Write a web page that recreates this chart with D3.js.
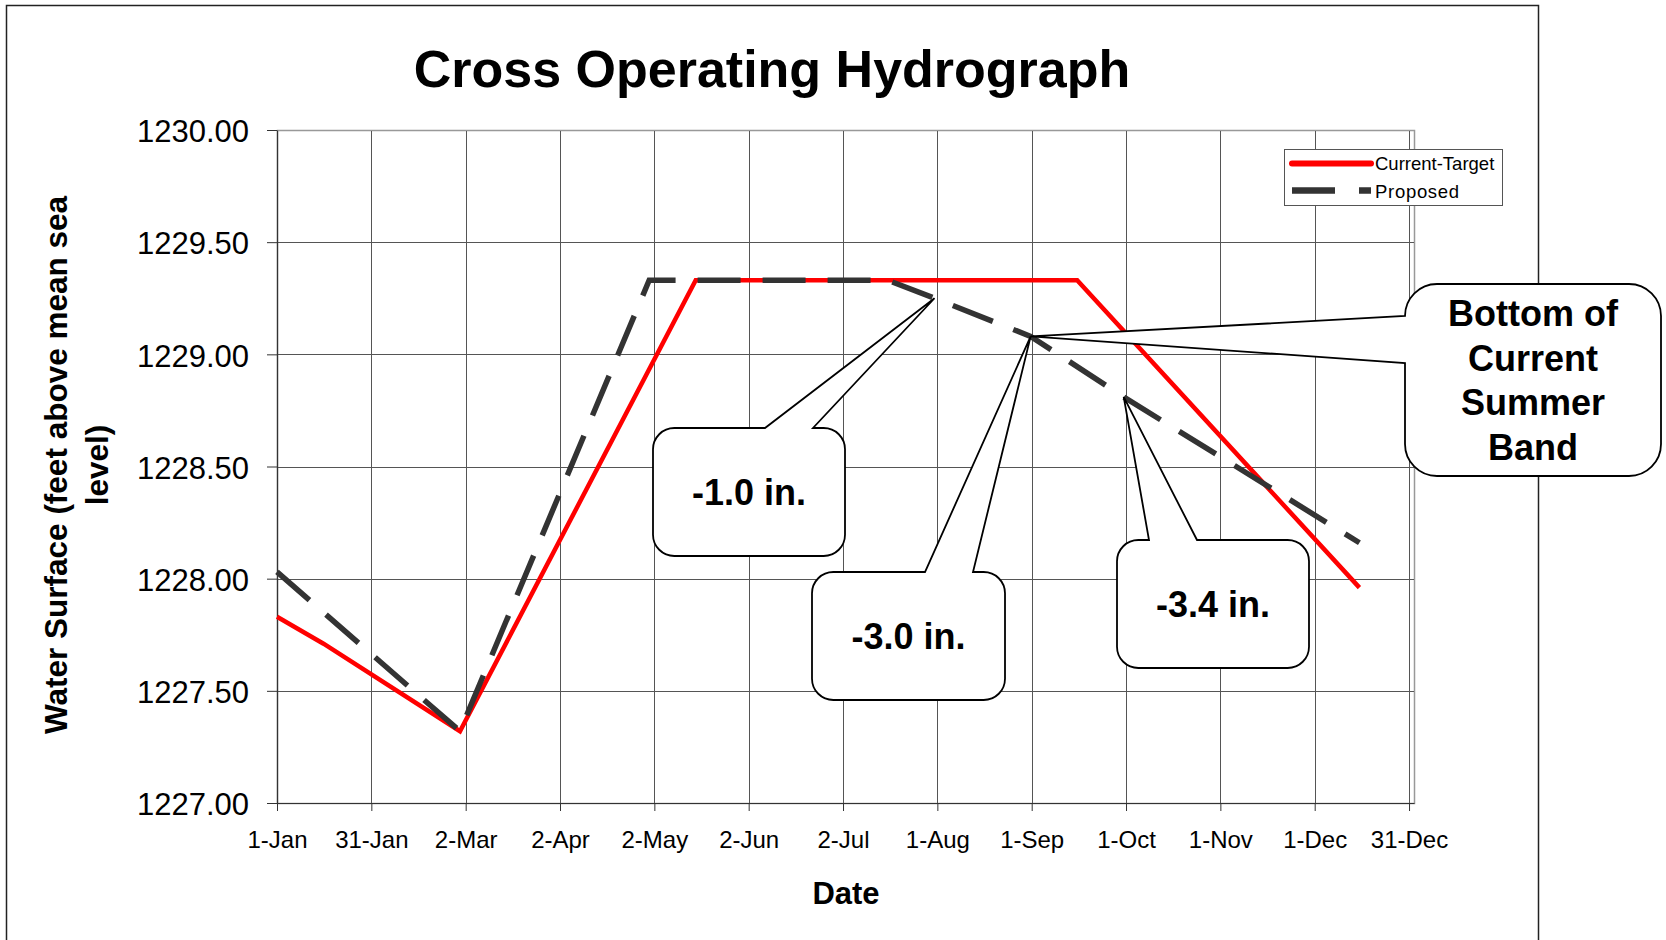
<!DOCTYPE html>
<html>
<head>
<meta charset="utf-8">
<script src="https://cdnjs.cloudflare.com/ajax/libs/d3/7.8.5/d3.min.js"></script>
<style>
 body { margin: 0; background: #fff; }
 text { font-family: "Liberation Sans", Arial, sans-serif; fill: #000; }
</style>
</head>
<body>
<div id="chart-area"></div>
<script>
// day of year (1-Jan = 0) and water surface elevation (ft)
var currentDays = [0, 15, 59, 135, 258, 349];
var currentLevels = [1227.83, 1227.71, 1227.32, 1229.33, 1229.33, 1227.96];
var proposedDays = [0, 59, 120, 197, 212, 243, 273, 349];
var proposedLevels = [1228.03, 1227.32, 1229.33, 1229.33, 1229.25, 1229.08, 1228.81, 1228.16];

var seriesNames = ["Current-Target", "Proposed"];
var xTickLabels = ["1-Jan", "31-Jan", "2-Mar", "2-Apr", "2-May", "2-Jun", "2-Jul",
  "1-Aug", "1-Sep", "1-Oct", "1-Nov", "1-Dec", "31-Dec"];
var yTicks = [1227, 1227.5, 1228, 1228.5, 1229, 1229.5, 1230];

// callout text and the Proposed point each one points at
var calloutTexts = [["-1.0 in."], ["-3.0 in."], ["-3.4 in."], ["Bottom of", "Current", "Summer", "Band"]];
var calloutTargets = [4, 5, 6, 5];

// set the dimensions and margins of the graph
var margin = {top: 130, right: 252, bottom: 137, left: 277},
  width = 1666 - margin.left - margin.right,
  height = 940 - margin.top - margin.bottom;

var svg0 = d3.select("#chart-area")
  .append("svg")
  .attr("width", 1666)
  .attr("height", 940);

// outer chart frame
svg0.append("rect")
  .attr("x", 6.5).attr("y", 5.5)
  .attr("width", 1532).attr("height", 960)
  .attr("fill", "none").attr("stroke", "#222").attr("stroke-width", 1.5);

svg0.append("text")
  .attr("x", 772).attr("y", 87)
  .attr("text-anchor", "middle")
  .attr("font-weight", "bold")
  .attr("font-size", "52px")
  .text("Cross Operating Hydrograph");

var svg = svg0.append("g")
  .attr("transform", `translate(${margin.left}, ${margin.top})`);

var x = d3.scaleLinear().domain([0, 366.6]).range([0, width]);
var y = d3.scaleLinear().domain([1227, 1230]).range([height, 0]);

var xTicks = d3.range(xTickLabels.length).map(i => i * 365 / 12);

// plot area border (top / right are light gray)
svg.append("rect")
  .attr("x", 0.5).attr("y", 0.5)
  .attr("width", width).attr("height", height)
  .attr("fill", "#fff").attr("stroke", "#999").attr("stroke-width", 1.5);

// grid
svg.append("g").selectAll("line.v")
  .data(xTicks).enter().append("line")
  .attr("x1", d => Math.round(x(d)) + 0.5).attr("x2", d => Math.round(x(d)) + 0.5)
  .attr("y1", 0).attr("y2", height)
  .attr("stroke", "#555").attr("stroke-width", 1);
svg.append("g").selectAll("line.h")
  .data(yTicks).enter().append("line")
  .attr("x1", 0).attr("x2", width)
  .attr("y1", d => Math.round(y(d)) + 0.5).attr("y2", d => Math.round(y(d)) + 0.5)
  .attr("stroke", d => d == 1230 ? "#999" : "#555").attr("stroke-width", 1);

// axes
var xAxis = d3.axisBottom(x)
  .tickValues(xTicks)
  .tickFormat((d, i) => xTickLabels[i])
  .tickSize(8).tickPadding(20).tickSizeOuter(0);
var yAxis = d3.axisLeft(y)
  .tickValues(yTicks)
  .tickFormat(d3.format(".2f"))
  .tickSize(10).tickPadding(18).tickSizeOuter(0);

var xAxisGroup = svg.append("g")
  .attr("transform", `translate(0, ${height})`)
  .call(xAxis);
xAxisGroup.selectAll("text").attr("font-size", "24px").attr("font-family", null);

var yAxisGroup = svg.append("g").call(yAxis);
yAxisGroup.selectAll("text").attr("font-size", "31px").attr("dy", "0.38em").attr("font-family", null);

svg.selectAll(".domain").attr("stroke", "#333").attr("stroke-width", 1.2);
svg.selectAll(".tick line").attr("stroke", "#333");

// axis titles
svg0.append("text")
  .attr("transform", "translate(67, 465) rotate(-90)")
  .attr("text-anchor", "middle")
  .attr("font-weight", "bold")
  .attr("font-size", "31.5px")
  .selectAll("tspan")
  .data(["Water Surface (feet above mean sea", "level)"])
  .enter().append("tspan")
  .attr("x", 0)
  .attr("dy", (d, i) => i == 0 ? 0 : 41)
  .text(d => d);

svg0.append("text")
  .attr("x", 846).attr("y", 904)
  .attr("text-anchor", "middle")
  .attr("font-weight", "bold")
  .attr("font-size", "31px")
  .text("Date");

// callout geometry (absolute page px)
var calloutBoxes = [
  {x: 653, y: 428, w: 192, h: 128, side: "top", b1: 765, b2: 813},
  {x: 812, y: 572, w: 193, h: 128, side: "top", b1: 925, b2: 973},
  {x: 1117, y: 540, w: 192, h: 128, side: "top", b1: 1149, b2: 1197},
  {x: 1405, y: 284, w: 256, h: 192, side: "left", b1: 316, b2: 363}
];

function calloutPath(b, tx, ty) {
  var r = Math.min(b.w, b.h) / 6, x0 = b.x, y0 = b.y, x1 = b.x + b.w, y1 = b.y + b.h;
  var p = d3.path();
  p.moveTo(x0 + r, y0);
  if (b.side == "top") { p.lineTo(b.b1, y0); p.lineTo(tx, ty); p.lineTo(b.b2, y0); }
  p.lineTo(x1 - r, y0);
  p.arcTo(x1, y0, x1, y0 + r, r);
  p.lineTo(x1, y1 - r);
  p.arcTo(x1, y1, x1 - r, y1, r);
  p.lineTo(x0 + r, y1);
  p.arcTo(x0, y1, x0, y1 - r, r);
  if (b.side == "left") { p.lineTo(x0, b.b2); p.lineTo(tx, ty); p.lineTo(x0, b.b1); }
  p.lineTo(x0, y0 + r);
  p.arcTo(x0, y0, x0 + r, y0, r);
  p.closePath();
  return p.toString();
}

var calloutData = calloutBoxes.map((b, i) => ({
  box: b,
  lines: calloutTexts[i],
  tx: margin.left + x(proposedDays[calloutTargets[i]]),
  ty: margin.top + y(proposedLevels[calloutTargets[i]])
}));

// white fills go under the series lines
svg0.append("g").selectAll("path")
  .data(calloutData).enter().append("path")
  .attr("d", d => calloutPath(d.box, d.tx, d.ty))
  .attr("fill", "#fff").attr("stroke", "none");

// series
var line = d3.line().x(d => x(d[0])).y(d => y(d[1]));
var currentData = currentDays.map((d, i) => [d, currentLevels[i]]);
var proposedData = proposedDays.map((d, i) => [d, proposedLevels[i]]);

svg.append("path")
  .datum(currentData)
  .attr("d", line)
  .attr("fill", "none")
  .attr("stroke", "#ff0000")
  .attr("stroke-width", 4.5)
  .attr("stroke-linejoin", "miter");

svg.append("path")
  .datum(proposedData)
  .attr("d", line)
  .attr("fill", "none")
  .attr("stroke", "#333")
  .attr("stroke-width", 5.5)
  .attr("stroke-dasharray", "43,22");

// callout outlines and text
var cg = svg0.append("g").selectAll("g")
  .data(calloutData).enter().append("g");
cg.append("path")
  .attr("d", d => calloutPath(d.box, d.tx, d.ty))
  .attr("fill", "none").attr("stroke", "#000").attr("stroke-width", 1.8)
  .attr("stroke-linejoin", "miter");
cg.each(function(d) {
  var b = d.box, n = d.lines.length;
  var cx = b.x + b.w / 2, cy = b.y + b.h / 2;
  d3.select(this).append("text")
    .attr("text-anchor", "middle")
    .attr("font-weight", "bold")
    .attr("font-size", "36px")
    .selectAll("tspan")
    .data(d.lines).enter().append("tspan")
    .attr("x", cx)
    .attr("y", (t, i) => cy + 13 + (i - (n - 1) / 2) * 44.7)
    .text(t => t);
});

// legend
var legend = svg0.append("g");
legend.append("rect")
  .attr("x", 1284.5).attr("y", 149.5)
  .attr("width", 218).attr("height", 56)
  .attr("fill", "#fff").attr("stroke", "#555").attr("stroke-width", 1);
legend.append("line")
  .attr("x1", 1292).attr("x2", 1371).attr("y1", 163.5).attr("y2", 163.5)
  .attr("stroke", "#ff0000").attr("stroke-width", 6).attr("stroke-linecap", "round");
legend.append("line")
  .attr("x1", 1292).attr("x2", 1371).attr("y1", 190.5).attr("y2", 190.5)
  .attr("stroke", "#333").attr("stroke-width", 6.5).attr("stroke-dasharray", "43,24");
legend.selectAll("text.lab")
  .data(seriesNames).enter().append("text")
  .attr("x", 1375)
  .attr("y", (d, i) => 170 + i * 28)
  .attr("font-size", "18.5px")
  .attr("letter-spacing", (d, i) => i == 1 ? "0.7px" : "0px")
  .text(d => d);
</script>
</body>
</html>
